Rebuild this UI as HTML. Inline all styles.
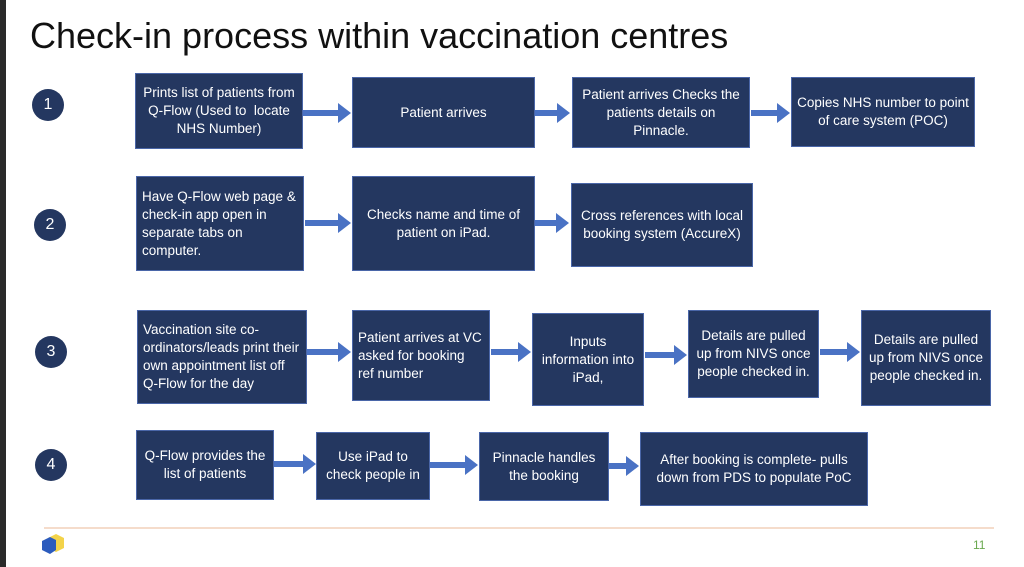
<!DOCTYPE html><html><head><style>
body{margin:0;width:1024px;height:567px;background:#fff;position:relative;overflow:hidden;font-family:"Liberation Sans",sans-serif}
.b{position:absolute;background:#243760;border:1px solid #4a66a8;color:#fff;font-size:13.5px;line-height:18px;display:flex;align-items:center;justify-content:center;text-align:center;box-sizing:border-box;padding:2px 5px}
.l{text-align:left;justify-content:flex-start}
.c{position:absolute;width:32px;height:32px;border-radius:50%;background:#243760;color:#fff;font-size:16px;display:flex;align-items:center;justify-content:center}
svg{position:absolute;left:0;top:0}
</style></head><body>
<div style="position:absolute;left:0;top:0;width:6px;height:567px;background:#2a2a2a"></div>
<div style="position:absolute;left:30px;top:15px;font-size:36px;color:#111">Check-in process within vaccination centres</div>
<div class="c" style="left:32px;top:89px">1</div>
<div class="c" style="left:34px;top:209px">2</div>
<div class="c" style="left:35px;top:336px">3</div>
<div class="c" style="left:35px;top:449px">4</div>
<div class="b" style="left:135px;top:73px;width:168px;height:76px">Prints list of patients from Q-Flow (Used to&nbsp; locate NHS Number)</div>
<div class="b" style="left:352px;top:77px;width:183px;height:71px">Patient arrives</div>
<div class="b" style="left:572px;top:77px;width:178px;height:71px">Patient arrives Checks the patients details on Pinnacle.</div>
<div class="b" style="left:791px;top:77px;width:184px;height:70px">Copies NHS number to point of care system (POC)</div>
<div class="b l" style="left:136px;top:176px;width:168px;height:95px">Have Q-Flow web page &amp; check-in app open in separate tabs on computer.</div>
<div class="b" style="left:352px;top:176px;width:183px;height:95px">Checks name and time of patient on iPad.</div>
<div class="b" style="left:571px;top:183px;width:182px;height:84px">Cross references with local booking system (AccureX)</div>
<div class="b l" style="left:137px;top:310px;width:170px;height:94px">Vaccination site co-ordinators/leads print their own appointment list off Q-Flow for the day</div>
<div class="b l" style="left:352px;top:310px;width:138px;height:91px">Patient arrives at VC asked for booking ref number</div>
<div class="b" style="left:532px;top:313px;width:112px;height:93px">Inputs information into iPad,</div>
<div class="b" style="left:688px;top:310px;width:131px;height:88px">Details are pulled up from NIVS once people checked in.</div>
<div class="b" style="left:861px;top:310px;width:130px;height:96px">Details are pulled up from NIVS once people checked in.</div>
<div class="b" style="left:136px;top:430px;width:138px;height:70px">Q-Flow provides the list of patients</div>
<div class="b" style="left:316px;top:432px;width:114px;height:68px">Use iPad to check people in</div>
<div class="b" style="left:479px;top:432px;width:130px;height:69px">Pinnacle handles the booking</div>
<div class="b" style="left:640px;top:432px;width:228px;height:74px">After booking is complete- pulls down from PDS to populate PoC</div>
<svg width="1024" height="567"><g fill="#4a72c4">
<path d="M303,110h35v-7l13,10l-13,10v-7h-35z"/>
<path d="M535,110h22v-7l13,10l-13,10v-7h-22z"/>
<path d="M751,110h26v-7l13,10l-13,10v-7h-26z"/>
<path d="M305,220h33v-7l13,10l-13,10v-7h-33z"/>
<path d="M535,220h21v-7l13,10l-13,10v-7h-21z"/>
<path d="M307,349h31v-7l13,10l-13,10v-7h-31z"/>
<path d="M491,349h27v-7l13,10l-13,10v-7h-27z"/>
<path d="M645,352h29v-7l13,10l-13,10v-7h-29z"/>
<path d="M820,349h27v-7l13,10l-13,10v-7h-27z"/>
<path d="M274,461h29v-7l13,10l-13,10v-7h-29z"/>
<path d="M430,462h35v-7l13,10l-13,10v-7h-35z"/>
<path d="M609,463h17v-7l13,10l-13,10v-7h-17z"/>
</g>
<line x1="44" y1="528" x2="994" y2="528" stroke="#f5dccb" stroke-width="2"/>
<path d="M48,538l8,-4l8,4v10l-8,4l-8,-4z" fill="#f3d34a"/>
<path d="M42,541l8,-4l6,3v10l-6,4l-8,-4z" fill="#2b5bbd"/>
</svg>
<div style="position:absolute;left:973px;top:538px;font-size:12px;color:#6aa84f">11</div>
</body></html>
